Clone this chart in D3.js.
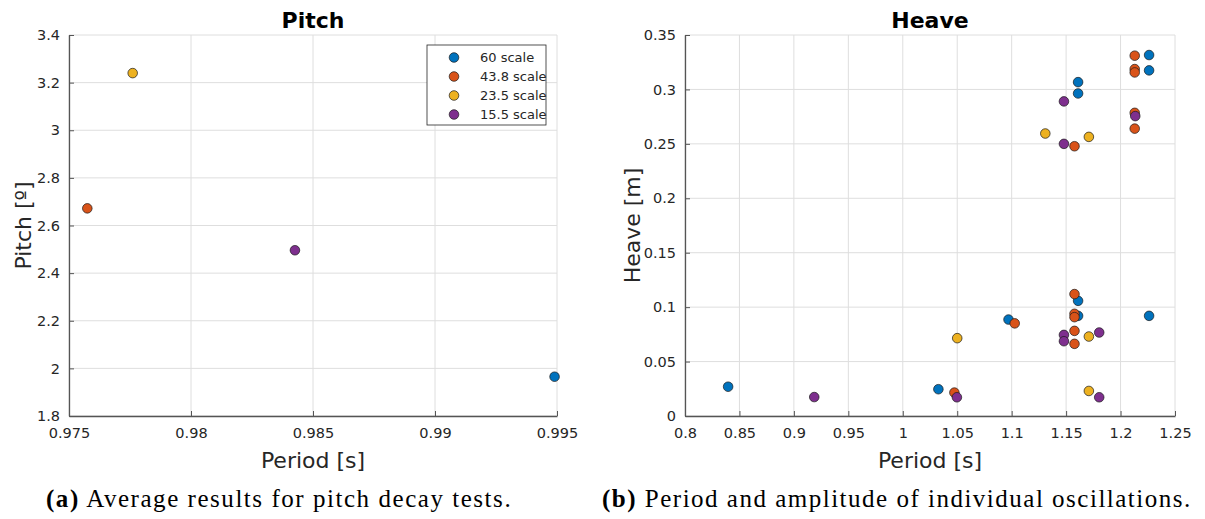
<!DOCTYPE html>
<html>
<head>
<meta charset="utf-8">
<script src="https://cdn.jsdelivr.net/npm/d3@7"></script>
<style>
  body { margin: 0; background: #fff; }
  svg text { font-family: "DejaVu Sans", sans-serif; fill: #262626; }
</style>
</head>
<body>
<div id="chart"></div>
<script>
// series names + colours (matlab default order)
var seriesNames = ["60 scale", "43.8 scale", "23.5 scale", "15.5 scale"];
var seriesColors = ["#0072BD", "#D95319", "#EDB120", "#7E2F8E"];

// (a) pitch decay, averaged
var pitchPeriod = [0.9949, 0.97575, 0.97761, 0.98426];
var pitchValue = [1.965, 2.672, 3.24, 2.496];

// (b) heave, individual oscillations: [period, amplitude]
var heave60 = [[0.8396, 0.0269], [1.0327, 0.0246], [1.0971, 0.0886], [1.161, 0.1058], [1.161, 0.092],
  [1.161, 0.3067], [1.161, 0.2963], [1.2262, 0.3316], [1.2262, 0.3175], [1.2262, 0.092]];
var heave43 = [[1.0474, 0.0215], [1.1028, 0.0851], [1.1577, 0.112], [1.1577, 0.0939], [1.1577, 0.0908],
  [1.1577, 0.0782], [1.1577, 0.0663], [1.1577, 0.2478], [1.213, 0.331], [1.213, 0.3187],
  [1.213, 0.3156], [1.213, 0.2785], [1.213, 0.264]];
var heave23 = [[1.05, 0.0715], [1.1309, 0.2595], [1.1709, 0.2564], [1.1709, 0.073], [1.1709, 0.023]];
var heave15 = [[0.9187, 0.0174], [1.0497, 0.0172], [1.148, 0.289], [1.148, 0.25], [1.148, 0.0745],
  [1.148, 0.0687], [1.1804, 0.0767], [1.1804, 0.0172], [1.2135, 0.2755]];

var pitchXTicks = [0.975, 0.98, 0.985, 0.99, 0.995];
var pitchYTicks = [1.8, 2, 2.2, 2.4, 2.6, 2.8, 3, 3.2, 3.4];
var heaveXTicks = [0.8, 0.85, 0.9, 0.95, 1, 1.05, 1.1, 1.15, 1.2, 1.25];
var heaveYTicks = [0, 0.05, 0.1, 0.15, 0.2, 0.25, 0.3, 0.35];

var W = 1205, H = 519;
var svg = d3.select("#chart").append("svg")
    .attr("width", W)
    .attr("height", H);

var fmt = function (d) { return String(+d.toFixed(4)); };

function panel(opt) {
    var x = d3.scaleLinear().domain(opt.xDomain).range([opt.left, opt.right]);
    var y = d3.scaleLinear().domain(opt.yDomain).range([opt.bottom, opt.top]);
    var g = svg.append("g");

    // grid
    g.append("g").selectAll("line").data(opt.xTicks).enter().append("line")
        .attr("x1", function (d) { return x(d); }).attr("x2", function (d) { return x(d); })
        .attr("y1", opt.top).attr("y2", opt.bottom)
        .attr("stroke", "#dedede").attr("stroke-width", 1);
    g.append("g").selectAll("line").data(opt.yTicks).enter().append("line")
        .attr("y1", function (d) { return y(d); }).attr("y2", function (d) { return y(d); })
        .attr("x1", opt.left).attr("x2", opt.right)
        .attr("stroke", "#dedede").attr("stroke-width", 1);

    // axes, ticks inward
    var xAxis = g.append("g").attr("transform", "translate(0," + opt.bottom + ")")
        .call(d3.axisBottom(x).tickValues(opt.xTicks).tickFormat(fmt).tickSizeInner(-5).tickSizeOuter(0).tickPadding(12));
    var yAxis = g.append("g").attr("transform", "translate(" + opt.left + ",0)")
        .call(d3.axisLeft(y).tickValues(opt.yTicks).tickFormat(fmt).tickSizeInner(-5).tickSizeOuter(0).tickPadding(9));
    [xAxis, yAxis].forEach(function (a) {
        a.select(".domain").attr("stroke", "#555").attr("stroke-width", 1.3);
        a.selectAll(".tick line").attr("stroke", "#555").attr("stroke-width", 1);
        a.selectAll(".tick text").attr("font-size", "14.5px").attr("fill", "#262626")
            .style("font-family", "DejaVu Sans");
    });
    xAxis.selectAll(".tick text").attr("dy", "0.71em");

    // title + labels
    var cx = (opt.left + opt.right) / 2;
    g.append("text").attr("x", cx).attr("y", 28).attr("text-anchor", "middle")
        .attr("font-size", "22px").attr("font-weight", "bold").style("fill", "#000")
        .text(opt.title);
    g.append("text").attr("x", cx).attr("y", opt.bottom + 52).attr("text-anchor", "middle")
        .attr("font-size", "22px").text("Period [s]");
    g.append("text")
        .attr("transform", "translate(" + opt.yLabelX + "," + ((opt.top + opt.bottom) / 2) + ") rotate(-90)")
        .attr("text-anchor", "middle").attr("font-size", "22px").text(opt.yLabel);

    // points
    opt.series.forEach(function (s, i) {
        g.append("g").selectAll("circle").data(s).enter().append("circle")
            .attr("cx", function (d) { return x(d[0]); })
            .attr("cy", function (d) { return y(d[1]); })
            .attr("r", 4.8)
            .attr("fill", seriesColors[i])
            .attr("stroke", "#1a1a1a").attr("stroke-width", 0.7);
    });

    // caption (serif, stretched a bit to the latex width)
    var cap = svg.append("text").attr("x", opt.capX).attr("y", 507)
        .style("font-family", "'Liberation Serif', serif").attr("font-size", "25px").style("fill", "#000");
    cap.append("tspan").attr("font-weight", "bold").text(opt.capTag);
    cap.append("tspan").text(" " + opt.caption);
    var n = (opt.capTag + " " + opt.caption).length;
    var natural = cap.node().getComputedTextLength();
    if (natural < opt.capW) cap.attr("letter-spacing", ((opt.capW - natural) / n).toFixed(2) + "px");
    return { x: x, y: y, g: g };
}

var pitchSeries = seriesNames.map(function (n, i) { return [[pitchPeriod[i], pitchValue[i]]]; });

var left = panel({
    left: 69, right: 557, top: 35, bottom: 416,
    xDomain: [0.975, 0.995], yDomain: [1.8, 3.4],
    xTicks: pitchXTicks, yTicks: pitchYTicks,
    title: "Pitch", yLabel: "Pitch [º]", yLabelX: 31,
    series: pitchSeries,
    capX: 46, capW: 466, capTag: "(a)", caption: "Average results for pitch decay tests."
});

panel({
    left: 685, right: 1175, top: 35, bottom: 416,
    xDomain: [0.8, 1.25], yDomain: [0, 0.35],
    xTicks: heaveXTicks, yTicks: heaveYTicks,
    title: "Heave", yLabel: "Heave [m]", yLabelX: 640,
    series: [heave60, heave43, heave23, heave15],
    capX: 602, capW: 590, capTag: "(b)", caption: "Period and amplitude of individual oscillations."
});

// legend on the pitch panel
var lg = left.g.append("g").attr("transform", "translate(427,45)");
lg.append("rect").attr("width", 119).attr("height", 80)
    .attr("fill", "#fff").attr("stroke", "#262626").attr("stroke-width", 0.8);
var items = lg.selectAll("g.item").data(seriesNames).enter().append("g")
    .attr("transform", function (d, i) { return "translate(0," + (12.5 + i * 19) + ")"; });
items.append("circle").attr("cx", 27).attr("cy", 0).attr("r", 4.8)
    .attr("fill", function (d, i) { return seriesColors[i]; })
    .attr("stroke", "#1a1a1a").attr("stroke-width", 0.7);
items.append("text").attr("x", 53).attr("dy", "0.35em").attr("font-size", "13px").text(function (d) { return d; });
</script>
</body>
</html>
